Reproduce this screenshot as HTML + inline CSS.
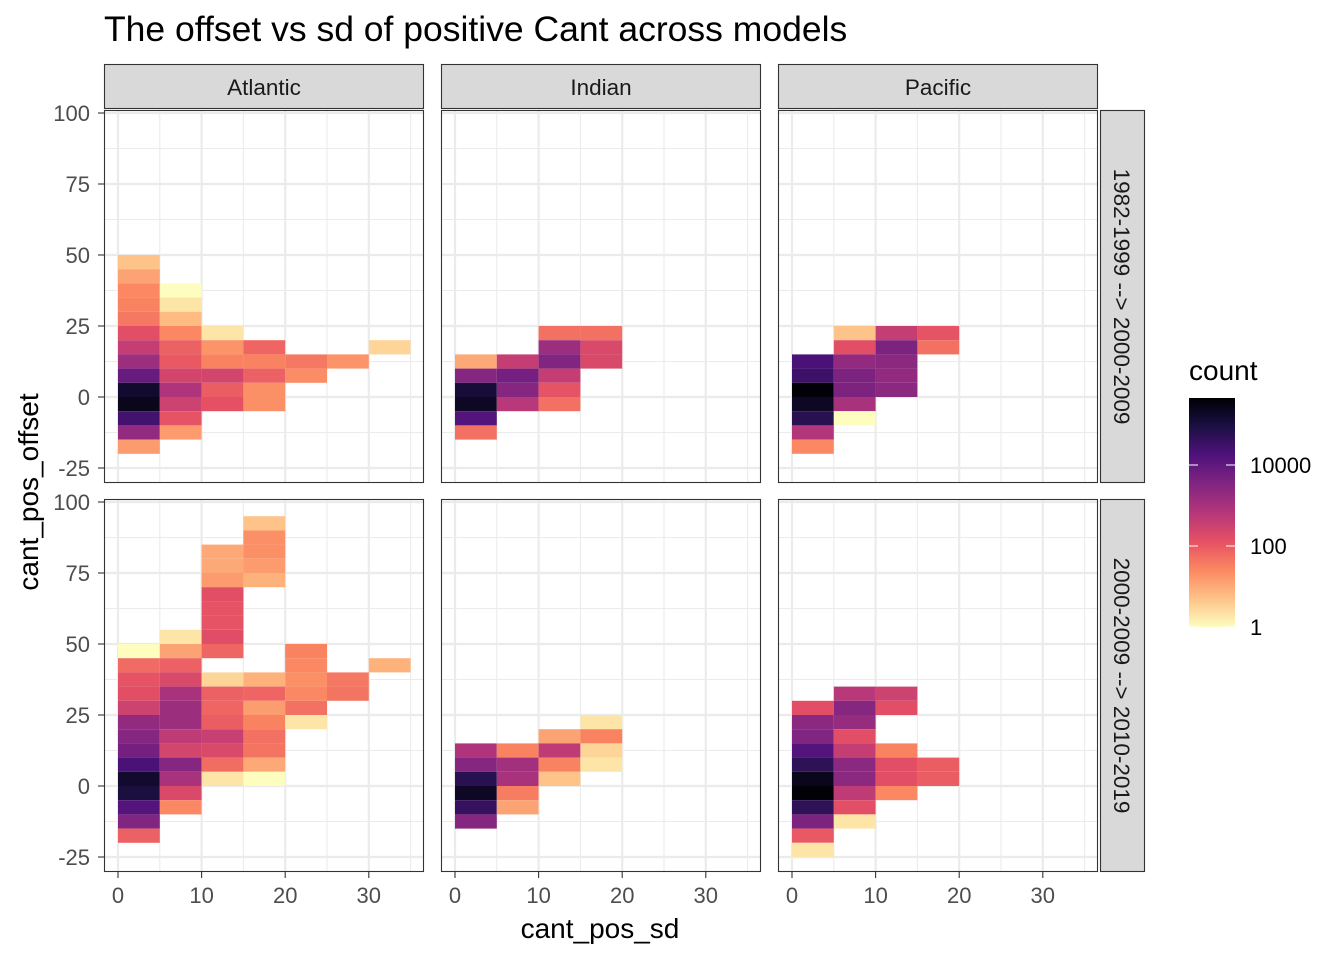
<!DOCTYPE html>
<html><head><meta charset="utf-8"><style>
body{margin:0;background:#fff}
svg text{font-family:"Liberation Sans",Arial,sans-serif}
</style></head><body>
<svg id="chart" width="1344" height="960" xmlns="http://www.w3.org/2000/svg">
<defs>
<linearGradient id="magma" x1="0" y1="1" x2="0" y2="0">
<stop offset="0" stop-color="#fcfdbf"/><stop offset="0.125" stop-color="#fec287"/><stop offset="0.25" stop-color="#fb8761"/><stop offset="0.375" stop-color="#e55064"/><stop offset="0.5" stop-color="#b5367a"/><stop offset="0.625" stop-color="#812581"/><stop offset="0.75" stop-color="#4f127b"/><stop offset="0.875" stop-color="#1c1044"/><stop offset="1" stop-color="#000004"/>
</linearGradient>
</defs>
<text x="104" y="41" font-size="35.5" fill="#000">The offset vs sd of positive Cant across models</text>
<g id="panels"></g>
<text x="600" y="938" font-size="28" text-anchor="middle" fill="#000">cant_pos_sd</text>
<text transform="translate(38,492) rotate(-90)" font-size="28" text-anchor="middle" fill="#000">cant_pos_offset</text>
<g>
<text x="1189" y="380" font-size="28" fill="#000">count</text>
<rect x="1189" y="398" width="46" height="229" fill="url(#magma)"/>
<g id="legticks"></g>
</g>
</svg>
<script>
const NS='http://www.w3.org/2000/svg';
const basins=['Atlantic','Indian','Pacific'];
const periods=['1982-1999 --> 2000-2009','2000-2009 --> 2010-2019'];
const xTicks=[0,10,20,30];
const yTicks=[-25,0,25,50,75,100];
const legendTicks=[1,100,10000];
const binWidth=5;
// cells: [sd bin lower, offset bin lower, count]
const atlanticP1=[[0,45,5],[0,40,12],[0,35,25],[0,30,30],[0,25,40],[0,20,150],[0,15,400],[0,10,1500],[0,5,8000],[0,0,150000],[0,-5,250000],[0,-10,25000],[0,-15,2000],[0,-20,15],
[5,35,1],[5,30,2],[5,25,6],[5,20,25],[5,15,80],[5,10,100],[5,5,250],[5,0,800],[5,-5,300],[5,-10,120],[5,-15,15],
[10,20,2],[10,15,18],[10,10,30],[10,5,250],[10,0,90],[10,-5,130],
[15,15,70],[15,10,30],[15,5,80],[15,0,20],[15,-5,20],[20,10,40],[20,5,22],[25,10,18],[30,15,3]];
const indianP1=[[0,10,10],[0,5,3000],[0,0,120000],[0,-5,200000],[0,-10,15000],[0,-15,50],
[5,10,400],[5,5,5000],[5,0,3000],[5,-5,600],
[10,20,50],[10,15,1500],[10,10,3500],[10,5,400],[10,0,120],[10,-5,50],
[15,20,50],[15,15,200],[15,10,200]];
const pacificP1=[[0,10,20000],[0,5,30000],[0,0,400000],[0,-5,200000],[0,-10,60000],[0,-15,700],[0,-20,25],
[5,20,5],[5,15,150],[5,10,2000],[5,5,4000],[5,0,4000],[5,-5,1000],[5,-10,1],
[10,20,400],[10,15,4000],[10,10,2500],[10,5,2000],[10,0,2500],[15,20,120],[15,15,50]];
const atlanticP2=[[0,45,1],[0,40,60],[0,35,120],[0,30,150],[0,25,300],[0,20,2000],[0,15,3000],[0,10,5000],[0,5,20000],[0,0,150000],[0,-5,100000],[0,-10,15000],[0,-15,3500],[0,-20,80],
[5,50,2],[5,45,12],[5,40,80],[5,35,200],[5,30,1000],[5,25,1500],[5,20,1500],[5,15,500],[5,10,250],[5,5,3000],[5,0,1000],[5,-5,200],[5,-10,25],
[10,80,10],[10,75,10],[10,70,15],[10,65,150],[10,60,120],[10,55,120],[10,50,160],[10,45,70],[10,35,3],[10,30,80],[10,25,70],[10,20,90],[10,15,350],[10,10,200],[10,5,55],[10,0,2],
[15,90,5],[15,85,20],[15,80,20],[15,75,15],[15,70,8],[15,35,8],[15,30,70],[15,25,14],[15,20,30],[15,15,50],[15,10,45],[15,5,10],[15,0,1],
[20,45,30],[20,40,25],[20,35,20],[20,30,25],[20,25,50],[20,20,2],[25,35,40],[25,30,45],[30,40,8]];
const indianP2=[[0,10,800],[0,5,3000],[0,0,60000],[0,-5,200000],[0,-10,40000],[0,-15,3000],
[5,10,30],[5,5,1200],[5,0,1000],[5,-5,35],[5,-10,12],
[10,15,12],[10,10,500],[10,5,30],[10,0,5],[15,20,2],[15,15,30],[15,10,3],[15,5,2]];
const pacificP2=[[0,25,150],[0,20,2500],[0,15,3500],[0,10,15000],[0,5,50000],[0,0,250000],[0,-5,400000],[0,-10,50000],[0,-15,4000],[0,-20,100],[0,-25,2],
[5,30,600],[5,25,3000],[5,20,1800],[5,15,150],[5,10,400],[5,5,2500],[5,0,2500],[5,-5,500],[5,-10,150],[5,-15,2],
[10,30,300],[10,25,150],[10,10,30],[10,5,150],[10,0,150],[10,-5,25],[15,5,90],[15,0,90]];
const panelData=[[atlanticP1,indianP1,pacificP1],[atlanticP2,indianP2,pacificP2]];

const LOGMAX=5.65;
const stops=['#fcfdbf','#fec287','#fb8761','#e55064','#b5367a','#812581','#4f127b','#1c1044','#000004'];
function hex(h){return [1,3,5].map(i=>parseInt(h.substr(i,2),16));}
function color(c){let t=Math.max(0,Math.min(1,Math.log10(c)/LOGMAX))*(stops.length-1);
 let i=Math.min(stops.length-2,Math.floor(t)),f=t-i;const a=hex(stops[i]),b=hex(stops[i+1]);
 return 'rgb('+a.map((v,k)=>Math.round(v+(b[k]-v)*f)).join(',')+')';}
const panelX=[104,441,778],panelW=320,panelY=[110,499],panelH=373;
function xS(p,v){return panelX[p]+14+v*8.36;}
function yS(r,v){return (r===0?397:786)-v*2.84;}
function mk(tag,attrs,parent){const e=document.createElementNS(NS,tag);for(const k in attrs)e.setAttribute(k,attrs[k]);parent.appendChild(e);return e;}
const G=document.getElementById('panels');
basins.forEach((b,p)=>{
 const s=mk('g',{},G);
 
 
 mk('rect',{x:panelX[p]+0.5,y:64.5,width:panelW-1,height:44,fill:'#d9d9d9',stroke:'#333','stroke-width':1.1},s);
 const t=mk('text',{x:panelX[p]+panelW/2,y:95,'font-size':22.5,'text-anchor':'middle',fill:'#1a1a1a'},s);t.textContent=b;
});
periods.forEach((pr,r)=>{
 const s=mk('g',{},G);
 
 
 mk('rect',{x:1100.5,y:panelY[r]+0.5,width:44,height:panelH-1,fill:'#d9d9d9',stroke:'#333','stroke-width':1.1},s);
 const t=mk('text',{transform:'translate(1114,'+(panelY[r]+panelH/2)+') rotate(90)','font-size':22.5,'text-anchor':'middle',fill:'#1a1a1a'},s);t.textContent=pr;
});
for(let r=0;r<2;r++)for(let p=0;p<3;p++){
 const g=mk('g',{},G);
 
 
 const x0=panelX[p],y0=panelY[r];
 mk('rect',{x:x0,y:y0,width:panelW,height:panelH,fill:'#fff'},g);
 for(let v=-5;v<=35;v+=10){const x=xS(p,v);if(x>x0&&x<x0+panelW)mk('line',{x1:x,x2:x,y1:y0,y2:y0+panelH,stroke:'#ebebeb','stroke-width':1.1},g);}
 for(let v=-37.5;v<=100;v+=25){const y=yS(r,v);if(y>y0&&y<y0+panelH)mk('line',{x1:x0,x2:x0+panelW,y1:y,y2:y,stroke:'#ebebeb','stroke-width':1.1},g);}
 xTicks.forEach(v=>{const x=xS(p,v);mk('line',{x1:x,x2:x,y1:y0,y2:y0+panelH,stroke:'#ebebeb','stroke-width':2.2},g);});
 yTicks.forEach(v=>{const y=yS(r,v);if(y>=y0)mk('line',{x1:x0,x2:x0+panelW,y1:y,y2:y,stroke:'#ebebeb','stroke-width':2.2},g);});
 panelData[r][p].forEach(d=>{
  const x1=xS(p,d[0]),x2=xS(p,d[0]+binWidth),ya=yS(r,d[1]+binWidth),yb=yS(r,d[1]);
  const c=mk('rect',{x:x1,y:ya,width:x2-x1,height:yb-ya,fill:color(d[2])},g);
  
  
 });
 mk('rect',{x:x0+0.5,y:y0+0.5,width:panelW-1,height:panelH-1,fill:'none',stroke:'#333','stroke-width':1.1},g);
 if(p===0){yTicks.forEach(v=>{const y=yS(r,v);if(y<y0-3)return;
  mk('line',{x1:x0-6,x2:x0,y1:y,y2:y,stroke:'#333','stroke-width':1.1},g);
  const t=mk('text',{x:x0-14,y:y+8,'font-size':22,'text-anchor':'end',fill:'#4d4d4d'},g);t.textContent=v;});}
 if(r===1){xTicks.forEach(v=>{const x=xS(p,v);
  mk('line',{x1:x,x2:x,y1:y0+panelH,y2:y0+panelH+6,stroke:'#333','stroke-width':1.1},g);
  const t=mk('text',{x:x,y:y0+panelH+31,'font-size':22,'text-anchor':'middle',fill:'#4d4d4d'},g);t.textContent=v;});}
}
const L=document.getElementById('legticks');
legendTicks.forEach(v=>{const y=627-Math.log10(v)*40.5;
 mk('line',{x1:1189,x2:1198,y1:y,y2:y,stroke:'#fff','stroke-width':1},L);
 mk('line',{x1:1226,x2:1235,y1:y,y2:y,stroke:'#fff','stroke-width':1},L);
 const t=mk('text',{x:1250,y:y+8,'font-size':22,fill:'#000'},L);t.textContent=v;
 
 
});
</script>
</body></html>
